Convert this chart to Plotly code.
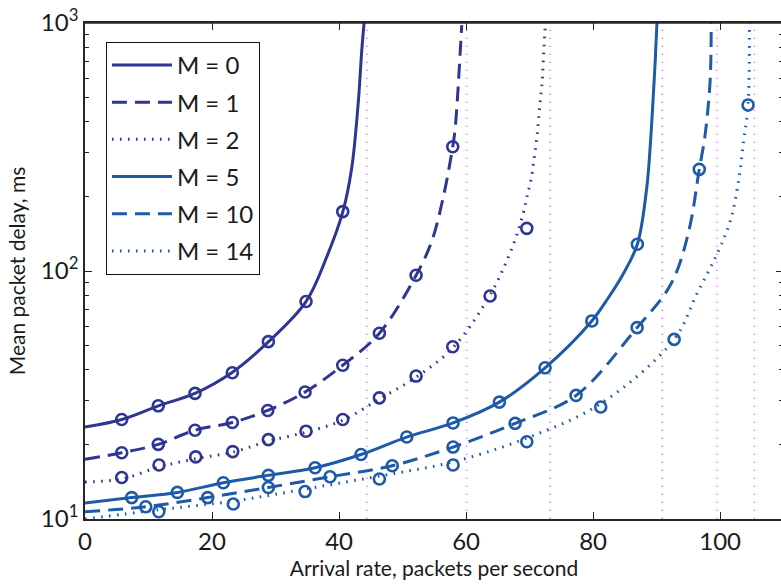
import plotly.graph_objects as go

# ---------------- data ----------------
labels = ["M = 0", "M = 1", "M = 2", "M = 5", "M = 10", "M = 14"]

# analytic curves
m0_x = [0, 5.8, 11.55, 17.3, 23.1, 28.9, 34.8, 38.06, 40.6, 42.0, 43.04, 43.57, 43.94]
m0_y = [23.5, 25.2, 28.6, 32.1, 38.9, 51.9, 75.3, 114, 173.5, 261, 484, 771, 1000]

m1_x = [0, 5.78, 11.54, 17.32, 23.2, 28.77, 34.65, 40.58, 46.35, 52.13, 54.6, 56.4, 57.9, 58.27, 58.63, 58.95, 59.32]
m1_y = [17.4, 18.5, 20.0, 22.8, 24.5, 27.4, 32.5, 41.7, 56.1, 96.1, 132, 198, 317, 373, 492, 671, 980]

m2_x = [0, 5.78, 11.65, 17.43, 23.26, 28.87, 34.8, 40.58, 46.35, 52.13, 57.9, 63.78, 67.45, 69.02, 69.56, 70.24, 70.76, 71.23, 71.54, 71.92, 72.17, 72.44]
m2_y = [14.1, 14.5, 16.2, 17.5, 18.6, 20.6, 22.4, 25.0, 30.5, 37.3, 49.0, 80.0, 128, 172, 198, 234, 291, 361, 449, 557, 714, 948]

m5_x = [0, 7.35, 14.54, 21.78, 28.87, 36.22, 43.46, 50.66, 57.95, 65.24, 72.44, 79.8, 82.4, 84.8, 86.97, 88.45, 89.0, 89.5, 89.8, 90.05]
m5_y = [11.6, 12.2, 12.8, 14.0, 15.0, 16.1, 18.2, 21.4, 24.4, 29.6, 40.7, 62.9, 78, 98, 128.2, 217, 320, 520, 720, 1000]

m10_x = [0, 9.56, 19.32, 28.87, 38.58, 48.38, 57.95, 67.72, 77.32, 86.93, 91.6, 93.4, 95.3, 96.72, 97.5, 98.0, 98.45, 98.6]
m10_y = [10.7, 11.2, 12.2, 13.4, 14.8, 16.4, 19.5, 24.3, 31.5, 59.1, 83, 103, 154, 257, 334, 428, 600, 1000]

m14_x = [0, 11.62, 23.35, 34.65, 46.35, 57.95, 69.56, 81.2, 92.76, 96.3, 99.5, 101.6, 102.9, 103.7, 104.4, 104.6]
m14_y = [10.0, 10.9, 11.8, 13.2, 14.9, 17.0, 21.2, 29.2, 53.0, 80.5, 117, 159, 231, 334, 467, 1000]

# simulation points (circles)
s0_x = [5.78, 11.54, 17.32, 23.2, 28.87, 34.8, 40.58]
s0_y = [25.2, 28.6, 32.1, 38.9, 51.9, 75.3, 173.5]

s1_x = [5.78, 11.54, 17.32, 23.2, 28.77, 34.65, 40.58, 46.35, 52.13, 57.9]
s1_y = [18.5, 20.0, 22.8, 24.5, 27.4, 32.5, 41.7, 56.1, 96.1, 317]

s2_x = [5.78, 11.65, 17.43, 23.26, 28.87, 34.8, 40.58, 46.35, 52.13, 57.9, 63.78, 69.56]
s2_y = [14.7, 16.5, 17.8, 18.7, 20.9, 22.6, 25.2, 30.8, 37.7, 49.5, 79.3, 148.6]

s5_x = [7.35, 14.54, 21.78, 28.87, 36.22, 43.46, 50.66, 57.95, 65.24, 72.44, 79.8, 86.97]
s5_y = [12.2, 12.8, 14.0, 15.0, 16.1, 18.2, 21.4, 24.4, 29.6, 40.7, 62.9, 128.2]

s10_x = [9.56, 19.32, 28.87, 38.58, 48.38, 57.95, 67.72, 77.32, 86.93, 96.72]
s10_y = [11.2, 12.2, 13.4, 14.8, 16.4, 19.5, 24.3, 31.5, 59.1, 257]

s14_x = [11.62, 23.35, 34.65, 46.35, 57.95, 69.56, 81.2, 92.76, 104.4]
s14_y = [10.7, 11.5, 12.9, 14.5, 16.5, 20.5, 28.3, 53.0, 467]

# capacity asymptotes (vertical dotted lines)
asymptotes = [44.4, 60.1, 73.2, 90.9, 99.5, 105.4]

x_ticks = [0, 20, 40, 60, 80, 100]
y_ticks = [10, 100, 1000]
y_ticktext = ["10<sup>1</sup>", "10<sup>2</sup>", "10<sup>3</sup>"]
y_minor = [20, 30, 40, 50, 60, 70, 80, 90, 200, 300, 400, 500, 600, 700, 800, 900]

# ---------------- styling ----------------
DARK = "#2E3592"
LIGHT = "#1E5AA8"
VLINE = "#B868CC"
FONT = "Lato"
AX = "#262626"
TXT = "#1a1a1a"
DASH = "15px,8px"
DOT = "1.6px,6.4px"

curves = [
    (m0_x, m0_y, s0_x, s0_y, DARK, "solid", 3),
    (m1_x, m1_y, s1_x, s1_y, DARK, DASH, 3),
    (m2_x, m2_y, s2_x, s2_y, DARK, DOT, 3),
    (m5_x, m5_y, s5_x, s5_y, LIGHT, "solid", 3),
    (m10_x, m10_y, s10_x, s10_y, LIGHT, DASH, 3),
    (m14_x, m14_y, s14_x, s14_y, LIGHT, DOT, 3),
]

fig = go.Figure()

for a in asymptotes:
    fig.add_trace(go.Scatter(x=[a, a], y=[10, 1000], mode="lines",
                             line=dict(color=VLINE, width=1.2, dash="1.2px,6.8px"),
                             showlegend=False, hoverinfo="skip"))

for i, (lx, ly, sx, sy, col, dash, w) in enumerate(curves):
    fig.add_trace(go.Scatter(x=lx, y=ly, mode="lines", name=labels[i],
                             line=dict(color=col, width=w, dash=dash, shape="spline", smoothing=1.0),
                             legendgroup=f"g{i}"))
    fig.add_trace(go.Scatter(x=sx, y=sy, mode="markers", showlegend=False,
                             marker=dict(symbol="circle-open", size=11, color=col,
                                         line=dict(width=2.6, color=col))))

# figure is 2px wider than the window: the right frame line falls just outside,
# as in the reference, while the inward right-hand ticks stay visible
fig.update_layout(
    width=783, height=586,
    margin=dict(l=85, r=0, t=23, b=67, autoexpand=False),
    paper_bgcolor="white", plot_bgcolor="white",
    font=dict(family=FONT, color=TXT, size=21),
    showlegend=True,
    legend=dict(x=0.030, y=0.962, xanchor="left", yanchor="top",
                bgcolor="white", bordercolor="#111", borderwidth=1,
                font=dict(family=FONT, size=24, color=TXT),
                itemwidth=60, tracegroupgap=3),
    xaxis=dict(range=[0, 109.9], tickvals=x_ticks, ticks="inside", ticklen=7,
               tickcolor=AX, showline=True, linecolor=AX, linewidth=1.5,
               mirror="ticks", showgrid=False, zeroline=False, automargin=False,
               tickfont=dict(size=24, family=FONT, color=TXT),
               title=dict(text="Arrival rate, packets per second", standoff=6,
                          font=dict(size=21, family=FONT, color=TXT))),
    yaxis=dict(type="log", range=[1, 3], tickvals=y_ticks, ticktext=y_ticktext,
               ticks="inside", ticklen=7, tickcolor=AX, showline=True,
               linecolor=AX, linewidth=1.5, mirror="ticks", showgrid=False,
               zeroline=False, automargin=False,
               minor=dict(tickvals=y_minor, ticks="inside", ticklen=4, tickcolor=AX, showgrid=False),
               tickfont=dict(size=24, family=FONT, color=TXT),
               title=dict(text="Mean packet delay, ms", standoff=10,
                          font=dict(size=21, family=FONT, color=TXT))),
    shapes=[dict(type="line", xref="paper", yref="paper", x0=0, x1=1, y0=1, y1=1,
                 line=dict(color=AX, width=1.5), layer="above")],
)

# remove the default 8px page margin so the figure sits at the window's corner
fig.write_html("out.html", config={"displayModeBar": False},
               post_script="document.body.style.margin='0';document.body.style.overflow='hidden';")
